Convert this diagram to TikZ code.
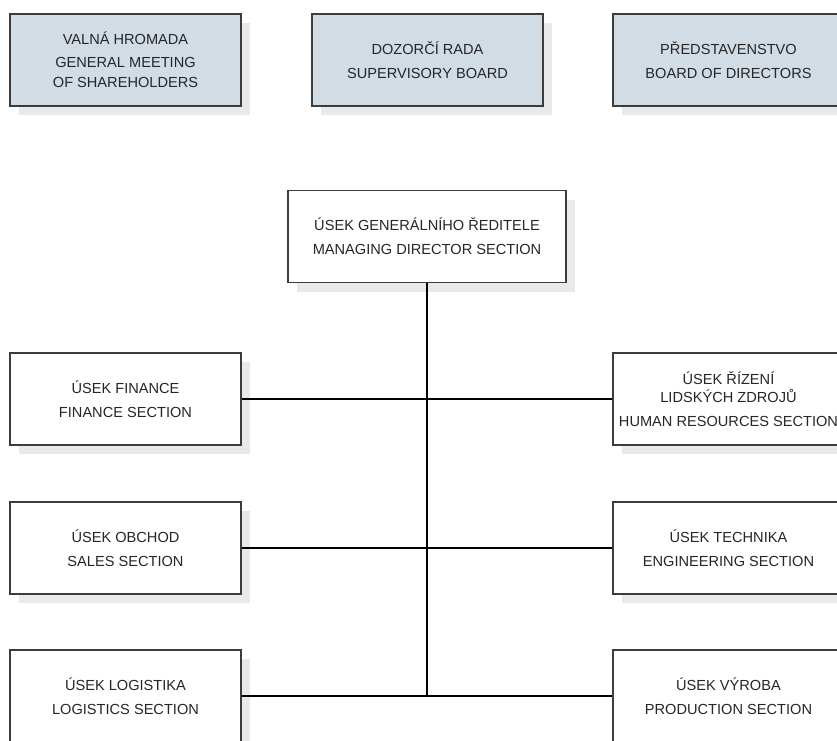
\documentclass[tikz,border=0pt]{standalone}
\usepackage{fontspec}
\setmainfont{Liberation Sans}
\usetikzlibrary{shadows}
\definecolor{boardfill}{HTML}{D1DCE5}
\definecolor{shadowgray}{HTML}{E9E9E9}
\definecolor{edgegray}{HTML}{3C3C3C}
\definecolor{txt}{HTML}{262626}
\tikzset{
  box/.style={draw=edgegray, line width=1.3pt, fill=white, minimum width=231pt, minimum height=92pt,
    inner sep=0pt, align=center, text=txt, font=\fontsize{14.6}{20}\selectfont,
    drop shadow={shadow xshift=9pt, shadow yshift=-9pt, fill=shadowgray, opacity=1}},
  board/.style={box, fill=boardfill},
  link/.style={draw=black, line width=1.1pt}
}
\begin{document}
\begin{tikzpicture}[x=1pt,y=-1pt]
\useasboundingbox (0,0) rectangle (837,740);
% top bodies
\node[board] (gm) at (125.5,60) {VALNÁ HROMADA\\[3pt]GENERAL MEETING\\OF SHAREHOLDERS};
\node[board] (sb) at (427.5,60) {DOZORČÍ RADA\\[4pt]SUPERVISORY BOARD};
\node[board] (bd) at (728.5,60) {PŘEDSTAVENSTVO\\[4pt]BOARD OF DIRECTORS};
% managing director
\node[box, minimum width=278pt] (md) at (427,236.5) {ÚSEK GENERÁLNÍHO ŘEDITELE\\[4pt]MANAGING DIRECTOR SECTION};
% connectors
\path (md.south) ++(0,413) coordinate (bottom);
\draw[link] (md.south) -- (bottom);
% sections
\node[box] (fin) at (125.5,399) {ÚSEK FINANCE\\[4pt]FINANCE SECTION};
\node[box] (hr) at (728.5,399) {ÚSEK ŘÍZENÍ\\[-2pt]LIDSKÝCH ZDROJŮ\\[4pt]HUMAN RESOURCES SECTION};
\node[box] (sal) at (125.5,548) {ÚSEK OBCHOD\\[4pt]SALES SECTION};
\node[box] (eng) at (728.5,548) {ÚSEK TECHNIKA\\[4pt]ENGINEERING SECTION};
\node[box] (log) at (125.5,696) {ÚSEK LOGISTIKA\\[4pt]LOGISTICS SECTION};
\node[box] (prod) at (728.5,696) {ÚSEK VÝROBA\\[4pt]PRODUCTION SECTION};
\draw[link] (fin.east) -- (hr.west);
\draw[link] (sal.east) -- (eng.west);
\draw[link] (log.east) -- (prod.west);
\end{tikzpicture}
\end{document}
